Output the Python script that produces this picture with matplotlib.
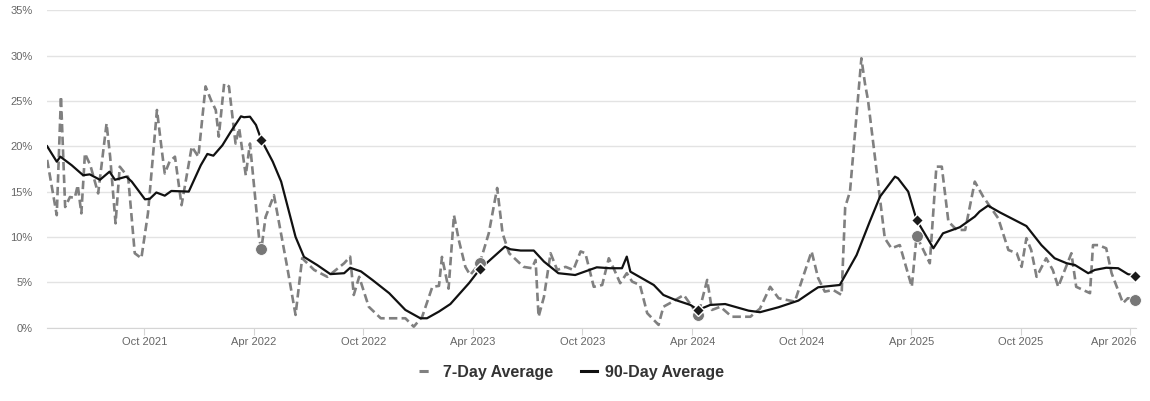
import numpy as np
import pandas as pd
import matplotlib
matplotlib.use('Agg')
import matplotlib.pyplot as plt
import matplotlib.transforms as mtransforms
from matplotlib.lines import Line2D

plt.rcParams['font.family'] = ['Liberation Sans', 'DejaVu Sans']

# 7-day average (turning points)
sevenday_dates = [
    '2021-04-22', '2021-05-08', '2021-05-15', '2021-05-22', '2021-05-30', '2021-06-07',
    '2021-06-12', '2021-06-18', '2021-06-24', '2021-07-03', '2021-07-16', '2021-07-30',
    '2021-08-05', '2021-08-14', '2021-08-21', '2021-09-04', '2021-09-15', '2021-09-26',
    '2021-10-07', '2021-10-22', '2021-10-30', '2021-11-04', '2021-11-12', '2021-11-21',
    '2021-12-02', '2021-12-19', '2021-12-30', '2022-01-11', '2022-01-20', '2022-01-28',
    '2022-02-02', '2022-02-11', '2022-02-19', '2022-03-02', '2022-03-08', '2022-03-19',
    '2022-03-26', '2022-04-10', '2022-04-14', '2022-04-21', '2022-05-05', '2022-05-27',
    '2022-06-10', '2022-06-21', '2022-07-11', '2022-08-02', '2022-08-30', '2022-09-09',
    '2022-09-15', '2022-09-24', '2022-10-10', '2022-10-30', '2022-12-10', '2022-12-24',
    '2023-01-07', '2023-01-24', '2023-02-04', '2023-02-09', '2023-02-20', '2023-03-01',
    '2023-03-09', '2023-03-20', '2023-03-28', '2023-04-13', '2023-04-28', '2023-05-12',
    '2023-05-21', '2023-06-01', '2023-06-25', '2023-07-09', '2023-07-15', '2023-07-20',
    '2023-07-29', '2023-08-09', '2023-08-20', '2023-09-03', '2023-09-16', '2023-09-28',
    '2023-10-06', '2023-10-20', '2023-11-03', '2023-11-14', '2023-11-22', '2023-12-03',
    '2023-12-14', '2023-12-23', '2024-01-05', '2024-01-17', '2024-02-05', '2024-02-13',
    '2024-02-24', '2024-03-18', '2024-04-01', '2024-04-11', '2024-04-26', '2024-05-04',
    '2024-05-18', '2024-06-06', '2024-07-07', '2024-07-23', '2024-08-09', '2024-08-23',
    '2024-09-19', '2024-10-17', '2024-10-28', '2024-11-08', '2024-11-22', '2024-12-06',
    '2024-12-12', '2024-12-20', '2025-01-08', '2025-01-14', '2025-01-19', '2025-02-05',
    '2025-02-16', '2025-02-27', '2025-03-13', '2025-04-02', '2025-04-10', '2025-05-02',
    '2025-05-13', '2025-05-22', '2025-06-02', '2025-06-16', '2025-06-30', '2025-07-16',
    '2025-07-30', '2025-08-24', '2025-09-10', '2025-09-24', '2025-10-02', '2025-10-10',
    '2025-10-18', '2025-10-27', '2025-11-12', '2025-11-23', '2025-12-02', '2025-12-24',
    '2026-01-01', '2026-01-24', '2026-01-29', '2026-02-07', '2026-02-20', '2026-03-01',
    '2026-03-20', '2026-03-28', '2026-04-09',
]
sevenday_vals = [
    18.5, 12.4, 25.5, 13.3, 14.4, 14.3,
    15.7, 12.6, 19.2, 17.9, 14.8, 22.5,
    18.85, 11.5, 17.75, 16.6, 8.2, 7.65,
    12.6, 24.0, 19.6, 17.0, 18.3, 18.85,
    13.5, 19.96, 18.85, 26.6, 25.1, 24.0,
    21.06, 26.9, 26.6, 20.3, 22.0, 16.8,
    20.3, 10.0, 8.64, 12.2, 14.6, 6.7,
    1.4, 7.65, 6.36, 5.6, 7.1, 7.83,
    3.6, 5.6, 2.3, 1.03, 1.03, 0.1,
    1.2, 4.5, 4.6, 7.8, 4.3, 12.4,
    9.67, 6.7, 5.8, 7.1, 10.4, 15.4,
    10.4, 8.2, 6.7, 6.55, 7.46, 1.2,
    3.4, 8.2, 6.36, 6.7, 6.36, 8.4,
    8.2, 4.5, 4.7, 7.65, 6.55, 4.9,
    6.0, 5.07, 4.7, 1.6, 0.3, 2.3,
    2.7, 3.6, 2.3, 1.4, 5.26, 1.95,
    2.3, 1.2, 1.2, 2.1, 4.5, 3.24,
    2.87, 8.4, 5.45, 3.97, 4.15, 3.6,
    13.3, 15.0, 29.7, 26.9, 25.1, 15.9,
    9.86, 8.75, 9.1, 4.5, 10.1, 7.1,
    17.75, 17.75, 11.7, 10.77, 10.77, 16.1,
    14.44, 12.06, 8.56, 8.2, 6.7, 9.86,
    8.56, 5.6, 7.65, 6.36, 4.5, 8.2,
    4.5, 3.8, 9.1, 9.1, 8.75, 6.0,
    2.7, 3.24, 3.09,
]

# 90-day average
ninety_dates = [
    '2021-04-22', '2021-05-08', '2021-05-14', '2021-06-02', '2021-06-21', '2021-07-02',
    '2021-07-19', '2021-08-04', '2021-08-13', '2021-09-01', '2021-09-10', '2021-10-02',
    '2021-10-10', '2021-10-21', '2021-11-04', '2021-11-15', '2021-12-14', '2022-01-03',
    '2022-01-14', '2022-01-24', '2022-02-08', '2022-02-22', '2022-03-11', '2022-03-16',
    '2022-03-26', '2022-04-05', '2022-04-14', '2022-05-03', '2022-05-17', '2022-06-10',
    '2022-06-24', '2022-07-16', '2022-08-07', '2022-08-30', '2022-09-09', '2022-09-27',
    '2022-10-16', '2022-11-13', '2022-12-10', '2023-01-04', '2023-01-15', '2023-02-04',
    '2023-02-23', '2023-03-26', '2023-04-13', '2023-05-25', '2023-06-03', '2023-06-20',
    '2023-07-12', '2023-07-29', '2023-08-22', '2023-09-19', '2023-10-25', '2023-11-16',
    '2023-12-06', '2023-12-14', '2023-12-20', '2024-01-28', '2024-02-13', '2024-03-04',
    '2024-03-29', '2024-04-11', '2024-05-01', '2024-05-26', '2024-07-04', '2024-07-23',
    '2024-08-23', '2024-09-25', '2024-10-17', '2024-10-28', '2024-12-03', '2024-12-31',
    '2025-01-22', '2025-02-08', '2025-03-05', '2025-03-10', '2025-03-27', '2025-04-10',
    '2025-05-08', '2025-05-24', '2025-06-21', '2025-07-16', '2025-07-24', '2025-08-07',
    '2025-08-27', '2025-10-10', '2025-11-04', '2025-11-26', '2025-12-16', '2025-12-30',
    '2026-01-21', '2026-02-01', '2026-02-20', '2026-03-12', '2026-03-28', '2026-04-09',
]
ninety_vals = [
    20.0, 18.3, 18.85, 17.9, 16.8, 16.9,
    16.3, 17.2, 16.3, 16.65, 16.1, 14.15,
    14.2, 14.9, 14.55, 15.07, 15.0, 17.9,
    19.15, 18.96, 20.1, 21.6, 23.3, 23.2,
    23.26, 22.35, 20.7, 18.3, 16.1, 10.0,
    7.8, 6.9, 5.9, 6.0, 6.6, 6.2,
    5.26, 3.8, 1.95, 1.03, 1.03, 1.77,
    2.6, 4.9, 6.44, 8.93, 8.64, 8.5,
    8.5, 7.28, 6.0, 5.8, 6.65, 6.55,
    6.55, 7.83, 6.17, 4.7, 3.6, 3.05,
    2.5, 1.95, 2.5, 2.6, 1.87, 1.7,
    2.25, 2.98, 3.97, 4.45, 4.7, 8.0,
    11.7, 14.44, 16.65, 16.47, 15.0, 11.87,
    8.75, 10.4, 11.07, 12.24, 12.8, 13.45,
    12.7, 11.2, 9.1, 7.65, 7.1, 6.9,
    6.0, 6.36, 6.6, 6.55, 5.9, 5.73,
]

# same week in each year
mark_dates = ['2022-04-14', '2023-04-13', '2024-04-11', '2025-04-10', '2026-04-09']
mark_7day = [8.64, 7.1, 1.4, 10.1, 3.09]
mark_90day = [20.7, 6.44, 1.95, 11.87, 5.73]

tick_dates = ['2021-10-01', '2022-04-01', '2022-10-01', '2023-04-01', '2023-10-01',
              '2024-04-01', '2024-10-01', '2025-04-01', '2025-10-01', '2026-04-01']
yticks = [0, 5, 10, 15, 20, 25, 30, 35]

d7 = pd.to_datetime(sevenday_dates)
d90 = pd.to_datetime(ninety_dates)
dm = pd.to_datetime(mark_dates)
dt = pd.to_datetime(tick_dates)

fig = plt.figure(figsize=(11.5, 4.01), dpi=100)
ax = fig.add_axes([0.041, 0.183, 0.947, 0.7915])

gray = '#808080'
ax.plot(d7, sevenday_vals, color=gray, lw=1.9, linestyle=(0, (3.2, 1.6)), zorder=2)
ax.plot(d90, ninety_vals, color='#111111', lw=1.6, zorder=3)
ax.plot(dm, mark_7day, 'o', color='#777777', ms=8.5, mec='white', mew=0.6, zorder=4, clip_on=False)
ax.plot(dm, mark_90day, 'D', color='#1a1a1a', ms=6.5, mec='white', mew=1.0, zorder=5, clip_on=False)

ax.set_xlim(pd.Timestamp('2021-04-22'), pd.Timestamp('2026-04-11'))
ax.set_ylim(0, 35)
ax.set_yticks(yticks)
ax.set_yticklabels(['%d%%' % v for v in yticks])
ax.set_xticks(dt)
ax.set_xticklabels([d.strftime('%b %Y') for d in dt])

ax.grid(axis='y', color='#e3e3e3', lw=1.0)
ax.set_axisbelow(True)
for s in ['top', 'right', 'left']:
    ax.spines[s].set_visible(False)
ax.spines['bottom'].set_color('#d5d5d5')
ax.tick_params(axis='y', length=0, pad=10.5, labelsize=8, labelcolor='#666666')
ax.tick_params(axis='x', length=5, width=0.8, color='#d5d5d5', pad=2, labelsize=8, labelcolor='#666666')

# last label is pulled inside the plot edge
last = ax.get_xticklabels()[-1]
last.set_horizontalalignment('right')
last.set_transform(last.get_transform() + mtransforms.ScaledTranslation(6 / 100, 0, fig.dpi_scale_trans))

handles = [
    Line2D([], [], color=gray, lw=2.2, linestyle=(0, (3.0, 20))),
    Line2D([], [], color='#111111', lw=2.2),
]
fig.legend(handles, ['7-Day Average', '90-Day Average'], loc='center',
           bbox_to_anchor=(0.497, 0.072), ncol=2, frameon=False,
           prop={'weight': 'bold', 'size': 11.5}, labelcolor='#333333',
           handlelength=1.0, handletextpad=0.5, columnspacing=1.8)

fig.savefig('out.png', dpi=100, facecolor='white')
